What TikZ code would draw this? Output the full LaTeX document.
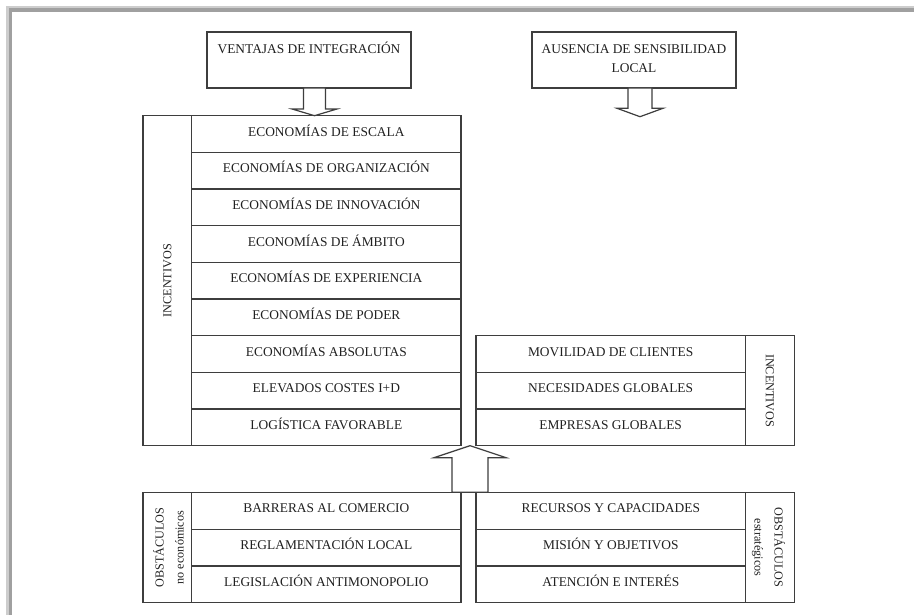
\documentclass[tikz,border=0pt]{standalone}
\usepackage{fontspec}
\setmainfont{Liberation Serif}
\definecolor{ink}{RGB}{62,62,62}
\definecolor{txt}{RGB}{32,32,32}
\definecolor{rimlight}{RGB}{205,205,205}
\definecolor{rimdark}{RGB}{160,160,160}
\begin{document}
\begin{tikzpicture}[x=1pt,y=-1pt,
  every node/.style={inner sep=0pt, outer sep=0pt},
  cell/.style={draw=ink, line width=1.2pt,
    text=txt, font=\fontsize{13.4}{16}\selectfont,
    text height=9pt, text depth=4.5pt},
  sidecell/.style={draw=ink, line width=1.2pt},
  topbox/.style={draw=ink, line width=1.2pt, fill=white,
    minimum width=204pt, minimum height=56pt},
  toptext/.style={text=txt, font=\fontsize{13.4}{16}\selectfont, anchor=base},
  sidetext/.style={text=txt, font=\fontsize{12.2}{20}\selectfont, align=center},
  blockarrow/.style={draw=ink, line width=1.2pt, fill=white, line join=miter}]
\useasboundingbox (0,0) rectangle (914,615);

% page rim (top and left only)
\fill[rimlight] (6,6) rectangle (914,8.5);
\fill[rimlight] (6,6) rectangle (8.5,615);
\fill[rimdark] (8.5,8.5) rectangle (914,12);
\fill[rimdark] (8.5,8.5) rectangle (12,615);

% top boxes
\node[topbox] (ventajas) at (309,60) {};
\node[toptext] (ventajasT) at (309,53.5) {VENTAJAS DE INTEGRACIÓN};
\node[topbox] (ausencia) at (634,60) {};
\node[toptext] (ausenciaT1) at (634,53.5) {AUSENCIA DE SENSIBILIDAD};
\node[toptext] (ausenciaT2) at (634,72.5) {LOCAL};

% upper-left block: incentives of integration
\node[sidecell, minimum width=48.7pt, minimum height=330pt] (incA) at (167.35,280.7) {};
\node[sidetext, rotate=90] (incAT) at (incA.center) {INCENTIVOS};
\foreach \t [count=\i from 0] in {ECONOMÍAS DE ESCALA, ECONOMÍAS DE ORGANIZACIÓN,
    ECONOMÍAS DE INNOVACIÓN, ECONOMÍAS DE ÁMBITO, ECONOMÍAS DE EXPERIENCIA,
    ECONOMÍAS DE PODER, ECONOMÍAS ABSOLUTAS, ELEVADOS COSTES I+D, LOGÍSTICA FAVORABLE}
  \node[cell, minimum width=269.3pt, minimum height=36.67pt] (l\i)
    at (326.35,{134.03+36.67*\i}) {\t};

% right block: incentives of global markets
\foreach \t [count=\i from 0] in {MOVILIDAD DE CLIENTES, NECESIDADES GLOBALES, EMPRESAS GLOBALES}
  \node[cell, minimum width=269.3pt, minimum height=36.67pt] (r\i)
    at (610.65,{354.03+36.67*\i}) {\t};
\node[sidecell, minimum width=49pt, minimum height=110pt] (incB) at (769.8,390.7) {};
\node[sidetext, rotate=-90] (incBT) at (incB.center) {INCENTIVOS};

% lower-left block: non-economic obstacles
\node[sidecell, minimum width=48.7pt, minimum height=110.4pt] (obsA) at (167.35,547.5) {};
\node[sidetext, rotate=90] (obsAT) at ([xshift=1pt]obsA.center) {OBSTÁCULOS\\no económicos};
\foreach \t [count=\i from 0] in {BARRERAS AL COMERCIO, REGLAMENTACIÓN LOCAL, LEGISLACIÓN ANTIMONOPOLIO}
  \node[cell, minimum width=269.3pt, minimum height=36.8pt] (b\i)
    at (326.35,{510.7+36.8*\i}) {\t};

% lower-right block: strategic obstacles
\foreach \t [count=\i from 0] in {RECURSOS Y CAPACIDADES, MISIÓN Y OBJETIVOS, ATENCIÓN E INTERÉS}
  \node[cell, minimum width=269.7pt, minimum height=36.8pt] (s\i)
    at (610.85,{510.7+36.8*\i}) {\t};
\node[sidecell, minimum width=48.6pt, minimum height=110.4pt] (obsB) at (770,547.5) {};
\node[sidetext, rotate=-90] (obsBT) at ([xshift=-1.5pt]obsB.center) {OBSTÁCULOS\\estratégicos};

% block arrows
\coordinate (arrA) at (314.5,88);
\draw[blockarrow] (arrA) ++(-11,0) -- ++(0,21) -- ++(-11.5,0) -- ++(22.5,6.7)
  -- ++(22.5,-6.7) -- ++(-11.5,0) -- ++(0,-21) -- cycle;
\coordinate (arrB) at (640,88);
\draw[blockarrow] (arrB) ++(-12,0) -- ++(0,20.3) -- ++(-11,0) -- ++(23,8.4)
  -- ++(23,-8.4) -- ++(-11,0) -- ++(0,-20.3) -- cycle;
\coordinate (arrC) at (470,492.3);
\draw[blockarrow] (arrC) ++(-18,0) -- ++(0,-34.6) -- ++(-18,0) -- ++(36,-12)
  -- ++(36,12) -- ++(-18,0) -- ++(0,34.6) -- cycle;
\end{tikzpicture}
\end{document}
